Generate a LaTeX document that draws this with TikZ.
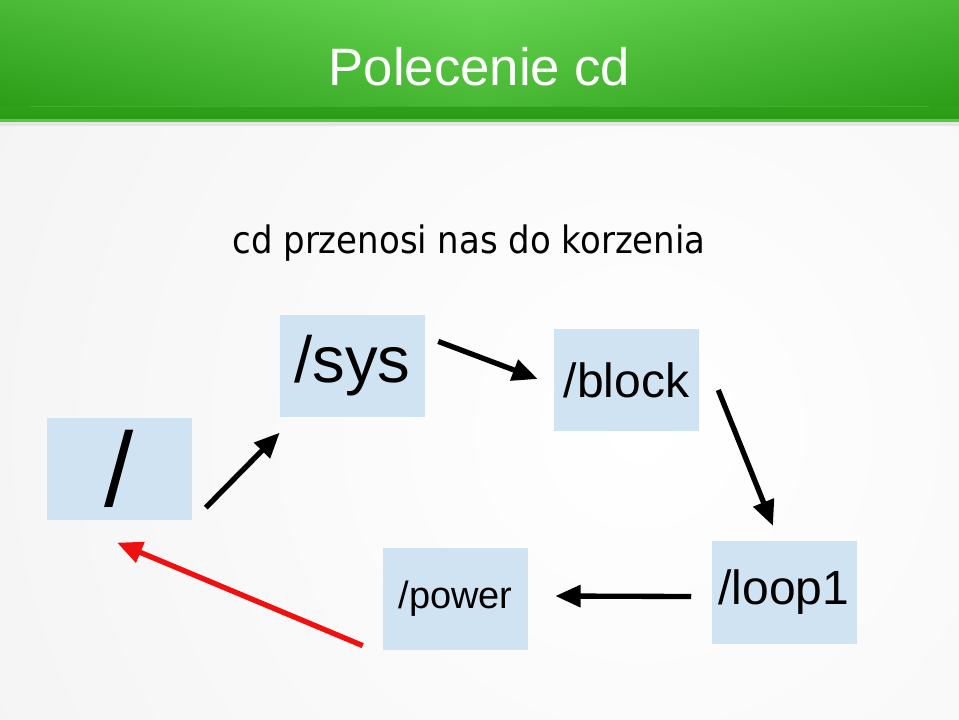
\documentclass[tikz,border=0pt]{standalone}
\usepackage{fontspec}
\setmainfont{Liberation Sans}
\newfontfamily\subfont[FakeStretch=0.9]{DejaVu Sans}
\usetikzlibrary{arrows.meta,calc}
\definecolor{boxblue}{RGB}{207,227,243}
\definecolor{bargreen}{RGB}{40,154,20}
\definecolor{barlight}{RGB}{104,214,84}
\definecolor{arrred}{RGB}{240,16,16}

\begin{document}
\begin{tikzpicture}[x=0.75pt,y=-0.75pt,>={Triangle[length=19pt,width=16pt]},
  dirbox/.style={fill=boxblue,minimum width=108.75pt,minimum height=77pt,inner sep=0pt},
  conn/.style={->,line width=4pt}]
\useasboundingbox (0,0) rectangle (959,719);
% background
\fill[gray!12] (0,0) rectangle (959,719);
\begin{scope}
  \clip (0,0) rectangle (959,719);
  \shade[inner color=white,outer color=gray!12] (640,430) circle[radius=760pt];
\end{scope}
% title bar
\fill[gray!20] (0,119) rectangle (959,126);
\shade[top color=barlight,bottom color=bargreen] (0,0) rectangle (959,119);
\shade[left color=bargreen,right color=bargreen,middle color=barlight,opacity=0.45] (0,0) rectangle (959,106);
\draw[barlight!35!bargreen,line width=0.6pt] (30,106) -- (929,106);
\fill[barlight!75!bargreen] (0,119) rectangle (959,122);
\node[white,font=\fontsize{39.5}{39.5}\selectfont] (title) at (479.5,67) {Polecenie cd};
\node[font=\subfont\fontsize{28.3}{28.3}\selectfont] (sub) at (469,243.5) {cd przenosi nas do korzenia};
% directories
\node[dirbox,font=\fontsize{79}{79}\selectfont] (root) at (119,469) {/};
\node[dirbox,font=\fontsize{49}{49}\selectfont] (sys) at (352.5,366) {/sys};
\node[dirbox,font=\fontsize{36}{36}\selectfont] (block) at (626.5,380) {/block};
\node[dirbox,font=\fontsize{36}{36}\selectfont] (loop1) at (784,592.5) {/loop1};
\node[dirbox,font=\fontsize{28.5}{28.5}\selectfont] (power) at (455.5,599) {/power};
% path
\draw[conn] ($(root.south east)+(14,-13)$) -- ($(sys.south west)+(0,15)$);
\draw[conn] ($(sys.north east)+(13,27)$) -- ($(block.west)+(-16,-1)$);
\draw[conn] ($(block.east)+(19,10)$) -- ($(loop1.north)+(-11,-15)$);
\draw[conn] ($(loop1.west)+(-20,4)$) -- ($(power.east)+(27,-3)$);
\draw[conn,arrred] ($(power.south west)+(-20,-5)$) -- ($(root.south)+(-2,22)$);
\end{tikzpicture}
\end{document}
